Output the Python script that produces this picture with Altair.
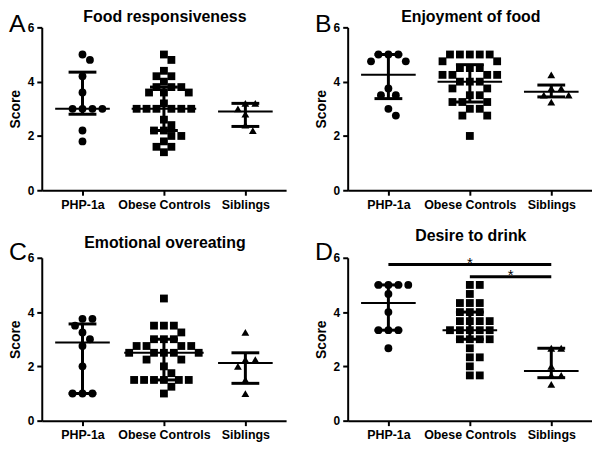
import altair as alt
import numpy as np
import pandas as pd

FONT = "Liberation Sans"

groups = ["PHP-1a", "Obese Controls", "Siblings"]
shapes = ["circle", "square", "triangle-up"]
titles = ["Food responsiveness", "Enjoyment of food", "Emotional overeating", "Desire to drink"]
letters = ["A", "B", "C", "D"]

# Panel A: Food responsiveness
a_php = [5.0, 4.8, 4.2, 3.6, 3.0, 3.0, 3.0, 3.0, 2.2, 1.8]
a_obese = [5.0, 4.8, 4.4, 4.2, 4.2, 4.0, 3.8, 3.8, 3.8, 3.6, 3.6, 3.6, 3.2,
           3.0, 3.0, 3.0, 3.0, 3.0, 3.0, 2.6, 2.4, 2.2, 2.2, 2.0, 2.0, 1.8, 1.6, 1.6, 1.4]
a_sib = [3.2, 3.2, 3.0, 2.8, 2.4, 2.2]

# Panel B: Enjoyment of food
b_php = [5.0, 5.0, 5.0, 4.75, 4.75, 3.75, 3.5, 3.5, 3.0, 2.75]
b_obese = [5.0, 5.0, 5.0, 5.0, 5.0, 4.75, 4.75, 4.5, 4.5, 4.5, 4.25, 4.25, 4.25, 4.25,
           4.0, 4.0, 4.0, 3.75, 3.75, 3.5, 3.5, 3.25, 3.25, 3.25, 3.0, 3.0, 2.75, 2.75, 2.0]
b_sib = [4.25, 3.75, 3.75, 3.5, 3.5, 3.25]

# Panel C: Emotional overeating
c_php = [3.75, 3.75, 3.5, 3.25, 3.0, 2.75, 2.0, 1.0, 1.0, 1.0]
c_obese = [4.5, 3.5, 3.5, 3.5, 3.25, 3.0, 3.0, 3.0, 2.75, 2.75, 2.75, 2.75,
           2.5, 2.5, 2.5, 2.5, 2.5, 2.25, 2.25, 2.0, 1.75,
           1.5, 1.5, 1.5, 1.5, 1.5, 1.5, 1.25, 1.0]
c_sib = [3.25, 2.25, 2.25, 2.0, 1.5, 1.0]

# Panel D: Desire to drink
d_php = [5.0, 5.0, 5.0, 5.0, 4.667, 4.0, 3.333, 3.333, 3.333, 2.667]
d_obese = [5.0, 5.0, 4.667, 4.333, 4.333, 4.333, 4.0, 4.0, 4.0,
           3.667, 3.667, 3.667, 3.667, 3.333, 3.333, 3.333, 3.333, 3.333,
           3.0, 3.0, 3.0, 3.0, 2.667, 2.333, 2.333, 2.0, 1.667, 1.667]
d_sib = [2.667, 2.667, 2.0, 1.667, 1.667, 1.333]

# Significance annotations in panel D
d_sig_from = ["PHP-1a", "Obese Controls"]
d_sig_to = ["Siblings", "Siblings"]
d_sig_level = [5.75, 5.3]
d_sig_label = ["*", "*"]

W = 246
H = 164
PXX = W / 3.0
PXY = H / 6.0


def swarm(vals, d=9.0, step=2.5):
    placed = []
    offs = [0.0] * len(vals)
    cands = [0.0]
    for k in range(1, 60):
        cands += [k * step, -k * step]
    order = sorted(range(len(vals)), key=lambda i: -vals[i])
    for i in order:
        y = vals[i] * PXY
        chosen = 0.0
        for c in cands:
            if all((c - px) ** 2 + (y - py) ** 2 >= d * d for px, py in placed):
                chosen = c
                break
        placed.append((chosen, y))
        offs[i] = chosen
    return offs


label_expr = " : ".join(
    f"datum.value == {i + 0.5} ? '{g}'" for i, g in enumerate(groups[:-1])
) + f" : '{groups[-1]}'"


def panel(sets, title, letter, title_y, letter_y, sig=None):
    rows, stats = [], []
    for gi, vals in enumerate(sets):
        offs = swarm(vals)
        for v, o in zip(vals, offs):
            rows.append({"group": groups[gi], "value": v, "xpos": gi + 0.5 + o / PXX})
        q1, med, q3 = np.percentile(vals, [25, 50, 75], method="weibull")
        half = max(27.5, max(abs(o) for o in offs) + 5) / PXX
        cap = 14.0 / PXX
        c = gi + 0.5
        stats.append({"group": groups[gi], "c": c, "q1": q1, "med": med, "q3": q3,
                      "m1": c - half, "m2": c + half, "k1": c - cap, "k2": c + cap})
    df = pd.DataFrame(rows)
    st = pd.DataFrame(stats)

    xscale = alt.Scale(domain=[0, 3], nice=False, zero=False)
    yscale = alt.Scale(domain=[0, 6], nice=False)
    xaxis = alt.Axis(values=[0.5, 1.5, 2.5], labelExpr=label_expr, title=None,
                     labelFontSize=12.5, labelPadding=3)
    yaxis = alt.Axis(values=[0, 2, 4, 6], title="Score", labelFontSize=12,
                     titleFontSize=14, titlePadding=5, labelPadding=3)

    def X(f):
        return alt.X(f, scale=xscale, axis=xaxis)

    def Y(f):
        return alt.Y(f, scale=yscale, axis=yaxis)

    pts = alt.Chart(df).mark_point(filled=True, opacity=1, color="black", size=62,
                                   strokeWidth=0).encode(
        x=X("xpos:Q"), y=Y("value:Q"),
        shape=alt.Shape("group:N", scale=alt.Scale(domain=groups, range=shapes), legend=None),
    )
    base = alt.Chart(st)
    med_rule = base.mark_rule(color="black", strokeWidth=2).encode(
        x=X("m1:Q"), x2="m2:Q", y=Y("med:Q"))
    q1_rule = base.mark_rule(color="black", strokeWidth=3).encode(
        x=X("k1:Q"), x2="k2:Q", y=Y("q1:Q"))
    q3_rule = base.mark_rule(color="black", strokeWidth=3).encode(
        x=X("k1:Q"), x2="k2:Q", y=Y("q3:Q"))
    vert = base.mark_rule(color="black", strokeWidth=3).encode(
        x=X("c:Q"), y=Y("q1:Q"), y2="q3:Q")

    ttl = alt.Chart(pd.DataFrame({"t": [title]})).mark_text(
        font=FONT, fontSize=16, fontWeight="bold", color="black", align="center",
        baseline="alphabetic").encode(text="t:N", x=alt.value(W / 2 + 1), y=alt.value(title_y))
    let = alt.Chart(pd.DataFrame({"t": [letter]})).mark_text(
        font=FONT, fontSize=25, color="black", align="left",
        baseline="alphabetic").encode(text="t:N", x=alt.value(-33), y=alt.value(letter_y))

    layers = [pts, med_rule, q1_rule, q3_rule, vert]
    if sig is not None:
        sdf = pd.DataFrame({
            "x1": [groups.index(a) + 0.5 for a in sig[0]],
            "x2": [groups.index(b) + 0.5 for b in sig[1]],
            "lvl": sig[2],
            "lab": sig[3],
        })
        sdf["mid"] = (sdf["x1"] + sdf["x2"]) / 2
        sbase = alt.Chart(sdf)
        layers.append(sbase.mark_rule(color="black", strokeWidth=3).encode(
            x=X("x1:Q"), x2="x2:Q", y=Y("lvl:Q")))
        layers.append(sbase.mark_text(font=FONT, fontSize=15, color="black",
                                      baseline="alphabetic", dy=3).encode(
            x=X("mid:Q"), y=Y("lvl:Q"), text="lab:N"))
    layers += [ttl, let]
    return alt.layer(*layers).properties(width=W, height=H)


pA = panel([a_php, a_obese, a_sib], titles[0], letters[0], -5, 5)
pB = panel([b_php, b_obese, b_sib], titles[1], letters[1], -5, 5)
pC = panel([c_php, c_obese, c_sib], titles[2], letters[2], -9.5, 2)
pD = panel([d_php, d_obese, d_sib], titles[3], letters[3], -16.5, 2,
           sig=(d_sig_from, d_sig_to, d_sig_level, d_sig_label))

chart = alt.concat(pA, pB, pC, pD, columns=2,
                   spacing={"row": 68, "column": 62}, bounds="flush").properties(
    padding=0
).configure_view(stroke=None).configure_axis(
    grid=False, domainColor="black", domainWidth=2, tickColor="black", tickWidth=2,
    tickSize=5, labelFont=FONT, labelFontWeight="bold", labelColor="black",
    titleFont=FONT, titleFontWeight="bold", titleColor="black"
)

chart.save("out.html", embed_options={"renderer": "svg", "actions": False})
